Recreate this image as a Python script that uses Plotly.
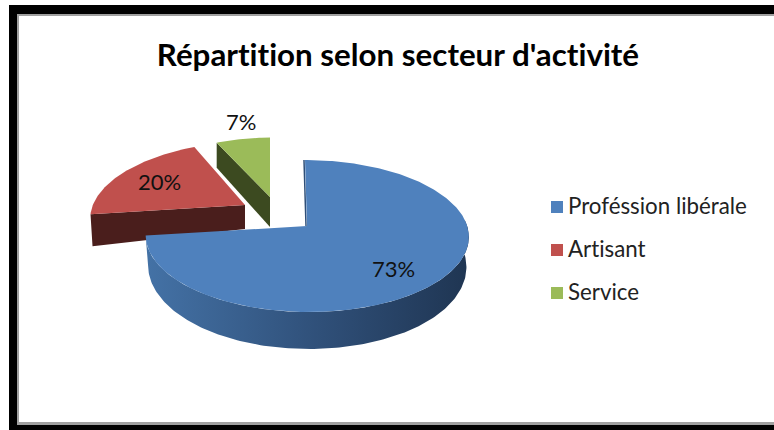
import numpy as np
import plotly.graph_objects as go

title = "Répartition selon secteur d'activité"
categories = ["Proféssion libérale", "Artisant", "Service"]
shares = [73, 20, 7]
top_colors = ["#4f81bd", "#c0504d", "#9bbb59"]
wall_colors = ["#335680", "#4a1e1c", "#3c4a20"]

# drawing geometry (pixel-like axes)
W, H = 774, 430
apex = [(307, 226), (245, 205), (270, 197)]
scale_x = [0.995, 0.945, 0.87]
scale_y = [1.0, 0.96, 0.90]
shear = [2, -8, 0]
label_r = [0.70, 0.60, 1.20]
label_shift = [(-4, 6), (-11, -4), (3, -7)]
RX, RY, PERSP = 161, 74.7, 0.1316
DEPTH0, DEPTH1 = 29, 8


def project(i, deg, r=1.0):
    t = np.radians(deg)
    u = r * np.sin(t)
    w = -r * np.cos(t)
    den = 1 - PERSP * w
    ax, ay = apex[i]
    return ax + scale_x[i] * RX * u / den + shear[i] * w, ay + scale_y[i] * RY * w / den, w


def arc(i, a0, a1, lower=False):
    n = max(2, int(abs(a1 - a0)) + 1)
    angs = np.linspace(a0, a1, n)
    x, y, w = project(i, angs)
    if lower:
        x = apex[i][0] + (x - apex[i][0]) * 0.985
        y = y + DEPTH0 + DEPTH1 * w
    return x, y


edges = np.concatenate([[0], np.cumsum(shares)]) * 360.0 / sum(shares)
fig = go.Figure()

# green side wall (radial face along its first edge)
gx, gy, _ = project(2, edges[2])
ax2, ay2 = apex[2]
fig.add_trace(go.Scatter(
    x=[gx, ax2, ax2, gx, gx], y=[gy, ay2, ay2 + 30, gy + 25, gy],
    mode="lines", fill="toself", fillcolor=wall_colors[2], line=dict(width=0),
    hoverinfo="skip", showlegend=False))

# red side wall (radial face along its first edge)
rx, ry, _ = project(1, edges[1])
ax1, ay1 = apex[1]
fig.add_trace(go.Scatter(
    x=[rx, ax1, ax1, rx + 2, rx], y=[ry, ay1, ay1 + 24, ry + 32, ry],
    mode="lines", fill="toself", fillcolor=wall_colors[1], line=dict(width=0),
    hoverinfo="skip", showlegend=False))

# blue curved wall
ux, uy = arc(0, 85, edges[1])
lx, ly = arc(0, 85, edges[1], lower=True)
fig.add_trace(go.Scatter(
    x=np.concatenate([ux, lx[::-1]]), y=np.concatenate([uy, ly[::-1]]),
    mode="lines", fill="toself", line=dict(width=0),
    fillgradient=dict(type="horizontal",
                      colorscale=[[0, "#4472a6"], [0.55, "#2f4f78"], [1, "#1f3552"]]),
    hoverinfo="skip", showlegend=False))

# dark sliver along the blue slice's first radial edge
bx, by, _ = project(0, edges[0])
fig.add_trace(go.Scatter(
    x=[apex[0][0] - 1, bx - 1], y=[apex[0][1], by], mode="lines",
    line=dict(color="#2f4f78", width=1.5), hoverinfo="skip", showlegend=False))

# top faces
for i, cat in enumerate(categories):
    ax_, ay_ = apex[i]
    x, y = arc(i, edges[i], edges[i + 1])
    fig.add_trace(go.Scatter(
        x=np.concatenate([[ax_], x, [ax_]]), y=np.concatenate([[ay_], y, [ay_]]),
        mode="lines", fill="toself", fillcolor=top_colors[i], line=dict(width=0),
        name=cat, hoverinfo="name", showlegend=False))

# percentage labels
for i, v in enumerate(shares):
    mid = (edges[i] + edges[i + 1]) / 2
    lx_, ly_, _ = project(i, mid, label_r[i])
    fig.add_annotation(x=float(lx_), y=float(ly_), text=f"{v}%", showarrow=False,
                       xshift=label_shift[i][0], yshift=-label_shift[i][1],
                       font=dict(family="Lato", size=22, color="#111111"))

# legend column
legend_y = [207 + 43 * i for i in range(3)]
fig.add_trace(go.Scatter(
    x=[557] * 3, y=legend_y, mode="markers",
    marker=dict(symbol="square", size=12, color=top_colors),
    hoverinfo="skip", showlegend=False))
fig.add_trace(go.Scatter(
    x=[568] * 3, y=[v + 1.5 for v in legend_y], mode="text",
    text=categories, textposition="middle right",
    textfont=dict(family="Lato", size=22.3, color="#222222"),
    hoverinfo="skip", showlegend=False))

frame = [
    (9, 5, W + 5, 14, "#000000"), (9, 5, 17, H + 5, "#000000"), (9, 425, W + 5, H + 5, "#000000"),
    (17, 14, W + 5, 16, "#a0a0a0"), (17, 14, 19, 425, "#a0a0a0"), (17, 422, W + 5, 425, "#a0a0a0"),
]
shapes = [dict(type="rect", xref="x", yref="y", x0=a, y0=b, x1=c, y1=d,
               fillcolor=col, line=dict(width=0), layer="below")
          for a, b, c, d, col in frame]

fig.update_layout(
    width=W, height=H, margin=dict(l=0, r=0, t=0, b=0), autosize=False,
    paper_bgcolor="white", plot_bgcolor="white", showlegend=False, shapes=shapes,
    xaxis=dict(range=[0, W], visible=False, fixedrange=True),
    yaxis=dict(range=[H, 0], visible=False, fixedrange=True),
    annotations=list(fig.layout.annotations) + [dict(
        x=397.5, y=54, xref="x", yref="y", text=f"<b>{title}</b>", showarrow=False,
        font=dict(family="Lato", size=31.3, color="#000000"))],
)
post = ("document.body.style.margin='0';document.documentElement.style.overflow='hidden';"
        "var s=document.createElement('style');"
        "s.textContent='svg text{font-variant-ligatures:none !important}';"
        "document.head.appendChild(s);")
fig.write_html("out.html", config={"displayModeBar": False}, post_script=post)
